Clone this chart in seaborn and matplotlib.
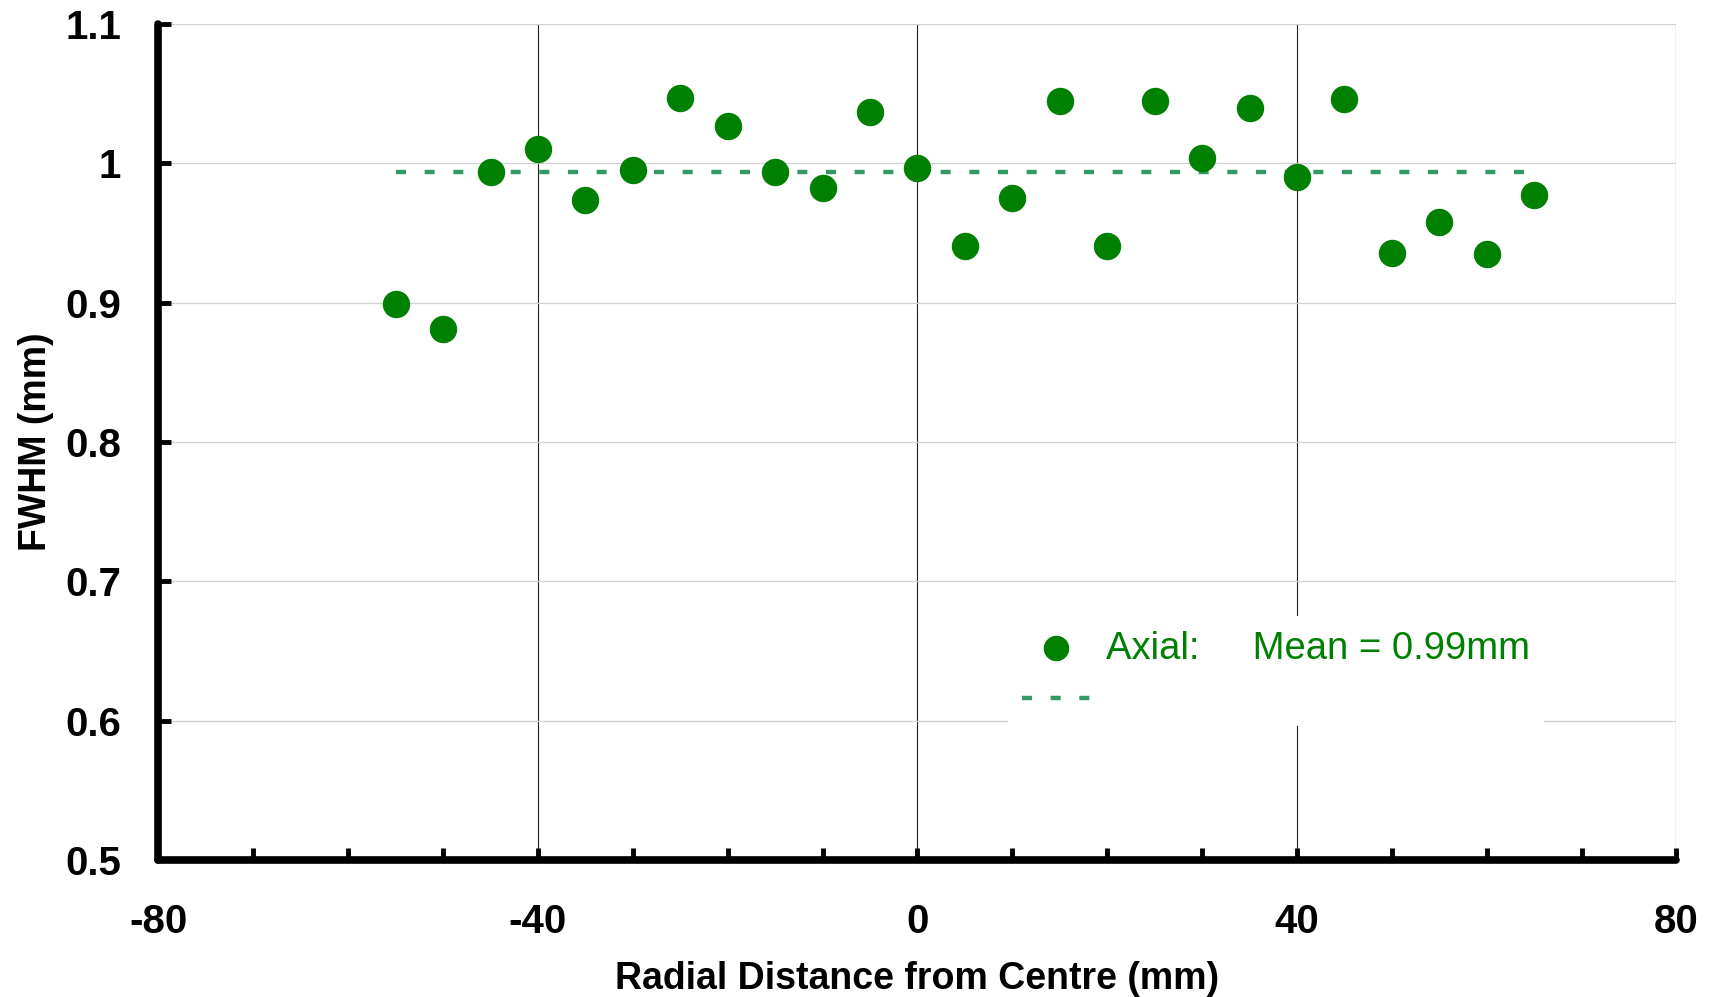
import numpy as np
import pandas as pd
import matplotlib
matplotlib.use("Agg")
import matplotlib.pyplot as plt
from matplotlib import font_manager
import seaborn as sns

# ---- data ----
radial_mm = [-55, -50, -45, -40, -35, -30, -25, -20, -15, -10, -5, 0, 5,
             10, 15, 20, 25, 30, 35, 40, 45, 50, 55, 60, 65]
fwhm_mm = [0.899, 0.881, 0.994, 1.010, 0.974, 0.995, 1.047, 1.027, 0.994,
           0.982, 1.037, 0.997, 0.941, 0.975, 1.045, 0.941, 1.045, 1.004,
           1.040, 0.990, 1.046, 0.936, 0.958, 0.935, 0.977]
mean_x = [-55, 65]
mean_y = [0.994, 0.994]
series_label = "Axial:     Mean = 0.99mm"
x_major = [-80, -40, 0, 40, 80]
x_minor = list(range(-80, 81, 10))
y_ticks = [0.5, 0.6, 0.7, 0.8, 0.9, 1.0, 1.1]
y_ticklabels = ["0.5", "0.6", "0.7", "0.8", "0.9", "1", "1.1"]

sns.set_style("white")
names = {f.name for f in font_manager.fontManager.ttflist}
narrow = "Liberation Sans Narrow" if "Liberation Sans Narrow" in names else "Liberation Sans"
plt.rcParams["font.family"] = ["Liberation Sans", "DejaVu Sans"]
plt.rcParams["lines.solid_capstyle"] = "butt"
plt.rcParams["lines.dash_capstyle"] = "butt"
plt.rcParams["text.color"] = "black"
plt.rcParams["axes.labelcolor"] = "black"
plt.rcParams["xtick.color"] = "black"
plt.rcParams["ytick.color"] = "black"

fig = plt.figure(figsize=(17.11, 9.97), dpi=100)
ax = fig.add_axes([0.0926, 0.1374, 0.8872, 0.8385])

df = pd.DataFrame({"r": radial_mm, "f": fwhm_mm})
dm = pd.DataFrame({"r": mean_x, "f": mean_y})

sns.lineplot(data=dm, x="r", y="f", ax=ax, color="#339966", linewidth=3.2,
             linestyle=(0, (2.25, 4.2)), label=" ", zorder=2)
sns.scatterplot(data=df, x="r", y="f", ax=ax, color="#008000", s=390,
                linewidth=0, label=series_label, zorder=3)

ax.set_xlim(-80, 80)
ax.set_ylim(0.5, 1.1)
ax.set_xticks(x_major)
ax.set_xticks(x_minor, minor=True)
ax.set_yticks(y_ticks)
ax.set_yticklabels(y_ticklabels)
ax.set_xticklabels([str(v) for v in x_major])

for lab in ax.get_xticklabels() + ax.get_yticklabels():
    lab.set_fontfamily([narrow, "Liberation Sans", "DejaVu Sans"])
    lab.set_fontweight("bold")
    lab.set_fontsize(29)
    lab.set_color("black")

ax.tick_params(axis="both", which="both", direction="in", length=9, width=3.5,
               color="black", bottom=True, left=True, top=False, right=False)
ax.tick_params(axis="x", which="both", pad=31)
ax.tick_params(axis="y", which="both", pad=27)

ax.set_axisbelow(True)
ax.xaxis.grid(True, which="major", color="#222222", linewidth=0.8)
ax.xaxis.grid(False, which="minor")
ax.yaxis.grid(True, which="major", color="#d0d0d0", linewidth=0.9)

for side in ["top", "right"]:
    ax.spines[side].set_visible(False)
for side in ["left", "bottom"]:
    ax.spines[side].set_linewidth(5.5)
    ax.spines[side].set_color("black")
    ax.spines[side].set_capstyle("round")

ax.set_xlabel("Radial Distance from Centre (mm)", fontsize=27,
              fontweight="bold", labelpad=14, color="black")
ax.set_ylabel("FWHM (mm)", fontsize=27, fontweight="bold", labelpad=8,
              color="black")

h, l = ax.get_legend_handles_labels()
order = [l.index(series_label), l.index(" ")]
leg = ax.legend([h[i] for i in order], [l[i] for i in order],
                loc="upper left", bbox_to_anchor=(0.5596, 0.2919),
                borderaxespad=0, frameon=True, facecolor="white",
                edgecolor="none", framealpha=1, fancybox=False,
                fontsize=27.5, labelcolor="#008000", handlelength=1.76,
                handletextpad=0.42, borderpad=0.38, labelspacing=0.48,
                markerscale=0.93)
leg.get_texts()[1].set_fontsize(1)
leg.set_zorder(5)

fig.savefig("out.png", dpi=100)
